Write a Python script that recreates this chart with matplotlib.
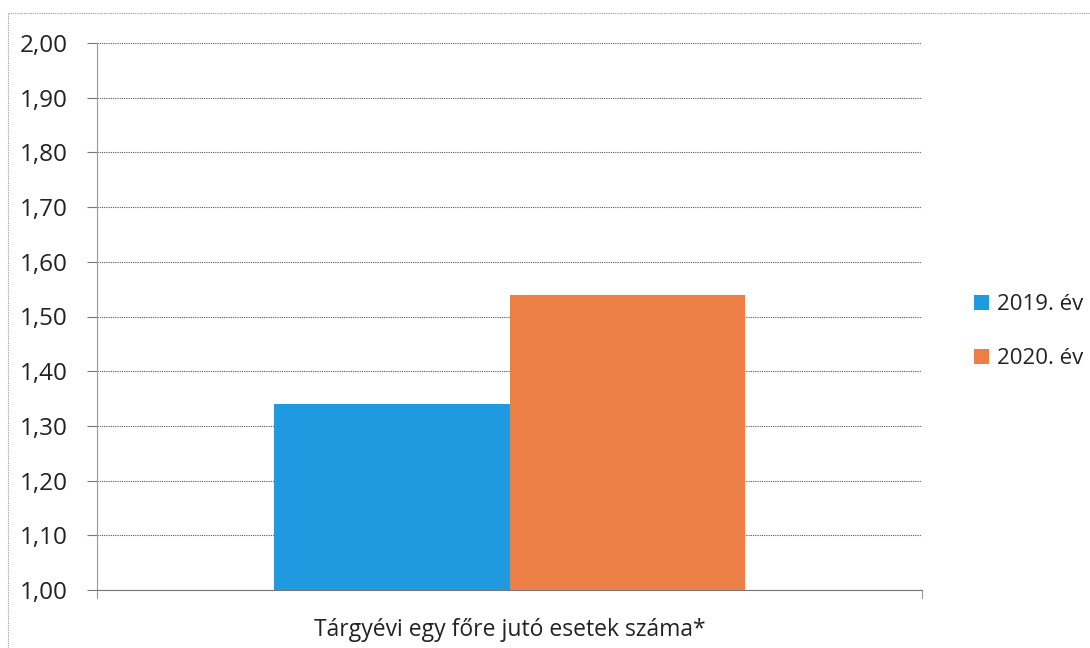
import matplotlib
matplotlib.use("Agg")
import matplotlib.pyplot as plt
from matplotlib.lines import Line2D

category = "Tárgyévi egy főre jutó esetek száma*"
series = ["2019. év", "2020. év"]
values = [1.34, 1.54]
colors = ["#1f9ae0", "#ec7f45"]
yticks = [1.0, 1.1, 1.2, 1.3, 1.4, 1.5, 1.6, 1.7, 1.8, 1.9, 2.0]

plt.rcParams['font.family'] = ['Open Sans', 'DejaVu Sans']

fig = plt.figure(figsize=(10.9, 6.48), dpi=100)
ax = fig.add_axes([97/1090, 1-590/648, (922-97)/1090, (590-43)/648])

w = 0.286
offsets = [-w/2, w/2]
for name, v, c, off in zip(series, values, colors, offsets):
    ax.bar(off, v - 1.0, bottom=1.0, width=w, color=c, label=name, zorder=3)

ax.set_xlim(-0.5, 0.5)
ax.set_ylim(1.0, 2.0)
ax.set_yticks(yticks)
ax.set_yticklabels([("%.2f" % t).replace(".", ",") for t in yticks], fontsize=17.5, color="#222222")
ax.set_xticks([])
ax.set_xlabel(category, fontsize=16.5, color="#222222", labelpad=20)

ax.grid(axis="y", color="#555555", linestyle=(0, (1, 1)), linewidth=0.8, zorder=0)
for s in ["top", "right"]:
    ax.spines[s].set_visible(False)
ax.spines["left"].set_color("#999999")
ax.spines["bottom"].set_color("#777777")
ax.spines["bottom"].set_linestyle((0, (1, 1)))
ax.tick_params(axis="y", length=7, color="#777777", pad=14)
# small end ticks of the category axis
ax.plot([0.5, 0.5], [1.0, 0.985], color="#999999", lw=0.8, clip_on=False)
ax.plot([-0.5, -0.5], [1.0, 0.985], color="#999999", lw=0.8, clip_on=False)

ax.legend(loc="center left", bbox_to_anchor=(1.05, 0.472), frameon=False, borderpad=0,
          fontsize=16, handlelength=0.65, handleheight=0.65, handletextpad=0.35,
          labelspacing=1.5, labelcolor="#222222")

# scanned frame around the chart
fig.add_artist(Line2D([8/1090, 8/1090], [0, 1-13/648], color="#999999", lw=0.8,
                      linestyle=(0, (1, 1))))
fig.add_artist(Line2D([8/1090, 1], [1-13/648, 1-13/648], color="#999999", lw=0.8,
                      linestyle=(0, (1, 1))))

fig.savefig("out.png", dpi=100)
